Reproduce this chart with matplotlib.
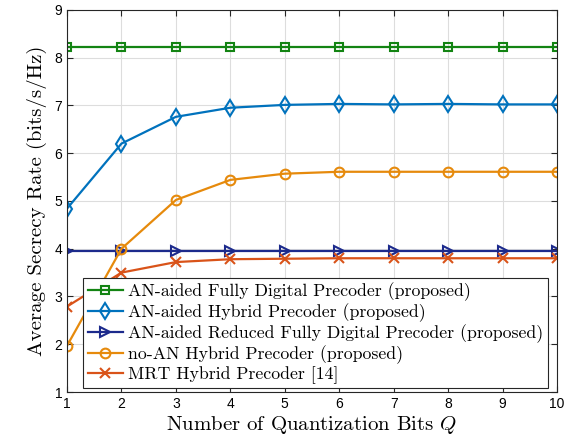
import matplotlib
matplotlib.use('Agg')
import matplotlib.pyplot as plt
import numpy as np

plt.rcParams['mathtext.fontset'] = 'cm'
plt.rcParams['axes.unicode_minus'] = False

# data
bits = [1, 2, 3, 4, 5, 6, 7, 8, 9, 10]
full_digital = [8.22, 8.22, 8.22, 8.22, 8.22, 8.22, 8.22, 8.22, 8.22, 8.22]
hybrid = [4.84, 6.2, 6.76, 6.95, 7.01, 7.03, 7.02, 7.03, 7.02, 7.02]
reduced_fd = [3.95, 3.95, 3.95, 3.95, 3.95, 3.95, 3.95, 3.95, 3.95, 3.95]
noan_hybrid = [1.97, 4.0, 5.02, 5.44, 5.57, 5.61, 5.61, 5.61, 5.61, 5.61]
mrt_hybrid = [2.79, 3.5, 3.72, 3.78, 3.79, 3.8, 3.8, 3.8, 3.8, 3.8]

labels = ['AN-aided Fully Digital Precoder (proposed)',
          'AN-aided Hybrid Precoder (proposed)',
          'AN-aided Reduced Fully Digital Precoder (proposed)',
          'no-AN Hybrid Precoder (proposed)',
          'MRT Hybrid Precoder [14]']

fig = plt.figure(figsize=(5.73, 4.45), dpi=100)
ax = fig.add_axes([0.117, 0.119, 0.855, 0.859])

ax.plot(bits, full_digital, color='#138413', marker='s', ms=6, mfc='none', mew=1.5, lw=1.6, label=labels[0])
ax.plot(bits, hybrid, color='#0072BD', marker='d', ms=8, mfc='none', mew=1.5, lw=1.6, label=labels[1])
ax.plot(bits, reduced_fd, color='#1c2a8c', marker='>', ms=7, mfc='none', mew=1.5, lw=1.6, label=labels[2])
ax.plot(bits, noan_hybrid, color='#E68A0C', marker='o', ms=7, mfc='none', mew=1.5, lw=1.6, label=labels[3])
ax.plot(bits, mrt_hybrid, color='#D95319', marker='x', ms=7, mew=1.5, lw=1.6, label=labels[4])

ax.set_xlim(1, 10)
ax.set_ylim(1, 9)
ax.set_xticks(bits)
ax.set_yticks(range(1, 10))
ax.grid(True, color='#dddddd', lw=0.8)
ax.set_axisbelow(True)
ax.tick_params(direction='in', top=True, right=True, labelsize=10, length=4, color='#262626')
for lab in ax.get_xticklabels() + ax.get_yticklabels():
    lab.set_family('Liberation Sans')
for s in ax.spines.values():
    s.set_color('#262626')

ax.set_xlabel('Number of Quantization Bits $Q$', family='cmr10', fontsize=15, labelpad=2)
ax.set_ylabel('Average Secrecy Rate (bits/s/Hz)', family='cmr10', fontsize=15, labelpad=5)

leg = ax.legend(loc='lower right', bbox_to_anchor=(0.982, 0.01), prop={'family': 'cmr10', 'size': 12.8},
                fancybox=False, edgecolor='#262626', framealpha=1, handlelength=2.0,
                borderpad=0.25, labelspacing=0.12, handletextpad=0.3, borderaxespad=0)
leg.get_frame().set_linewidth(0.8)

fig.savefig('out.png', dpi=100)
